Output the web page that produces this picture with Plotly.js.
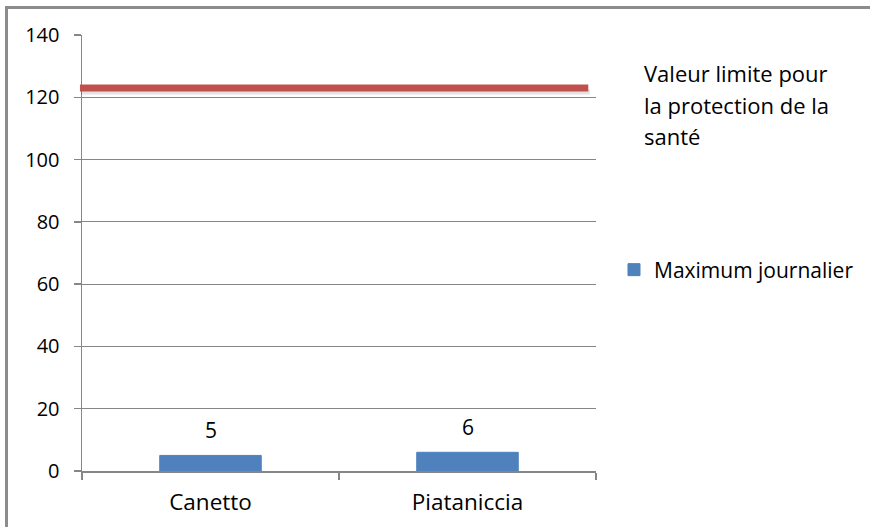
<!DOCTYPE html>
<html>
<head>
<meta charset="utf-8">
<script src="https://cdn.plot.ly/plotly-3.0.1.min.js"></script>
<style>
  html, body { margin: 0; padding: 0; background: #ffffff; }
  #chart { width: 870px; height: 527px; }
  #frame {
    position: absolute; left: 5px; top: 6px; width: 900px; height: 560px;
    border-left: 3px solid #8c8c8c; border-top: 3px solid #8c8c8c;
    pointer-events: none; box-sizing: border-box;
  }
</style>
</head>
<body>
<div id="chart"></div>
<div id="frame"></div>
<script>
// Stations and their daily maximum
const stations = ['Canetto', 'Piataniccia'];
const dailyMax = [5, 6];

// Health protection limit value and its label
const healthLimit = 123;
const limitLabelLines = ['Valeur limite pour', 'la protection de la', 'santé'];

const yTicks = [0, 20, 40, 60, 80, 100, 120, 140];

const FONT = 'Open Sans, Arial, sans-serif';
const GRID = '#868686';
const BLUE = '#4F81BD';

const barTrace = {
  type: 'bar',
  name: 'Maximum journalier',
  x: stations,
  y: dailyMax,
  width: 0.395,
  marker: { color: BLUE, line: { width: 1, color: BLUE } },
  hoverinfo: 'x+y'
};

// value labels above the bars
const valueLabels = stations.map((s, i) => ({
  x: s, y: dailyMax[i], xref: 'x', yref: 'y',
  text: String(dailyMax[i]), showarrow: false,
  yanchor: 'middle', yshift: 25,
  font: { family: FONT, size: 21, color: '#000' }
}));

// text for the limit line, one annotation per line
const limitLabels = limitLabelLines.map((t, i) => ({
  x: 1.089, xref: 'paper', xanchor: 'left',
  y: 0.913 - i * 0.0725, yref: 'paper', yanchor: 'middle',
  text: t, showarrow: false, align: 'left',
  font: { family: FONT, size: 22, color: '#000' }
}));

const layout = {
  width: 870, height: 527,
  margin: { l: 82, r: 273, t: 35, b: 56 },
  paper_bgcolor: '#ffffff', plot_bgcolor: '#ffffff',
  font: { family: FONT, size: 21, color: '#000' },
  xaxis: {
    type: 'category',
    showgrid: false,
    showline: true, linecolor: GRID, linewidth: 1.5,
    ticks: 'outside', tickson: 'boundaries', ticklen: 7, tickcolor: GRID, tickwidth: 1.5,
    ticklabelstandoff: 10,
    tickfont: { family: FONT, size: 22.5, color: '#000' },
    fixedrange: true
  },
  yaxis: {
    range: [0, 140],
    tickvals: yTicks,
    showgrid: true, gridcolor: GRID, gridwidth: 1,
    zeroline: false,
    showline: true, linecolor: GRID, linewidth: 1.5,
    ticks: 'outside', ticklen: 7, tickcolor: GRID, tickwidth: 1.5,
    ticklabelstandoff: 10,
    tickfont: { family: FONT, size: 20, color: '#000' },
    fixedrange: true
  },
  showlegend: true,
  legend: {
    x: 1.033, xanchor: 'left', y: 0.461, yanchor: 'middle',
    font: { family: FONT, size: 21, color: '#000' },
    bgcolor: 'rgba(0,0,0,0)', borderwidth: 0
  },
  shapes: [
    // soft shadow under the limit line
    {
      type: 'line', xref: 'paper', x0: -0.002, x1: 0.988,
      yref: 'y', ysizemode: 'pixel', yanchor: healthLimit, y0: -4, y1: -4,
      line: { color: 'rgba(0,0,0,0.11)', width: 5 }, layer: 'above'
    },
    // limit line
    {
      type: 'line', xref: 'paper', x0: -0.004, x1: 0.985,
      yref: 'y', y0: healthLimit, y1: healthLimit,
      line: { color: '#C0504D', width: 7 }, layer: 'above'
    }
  ],
  annotations: valueLabels.concat(limitLabels)
};

Plotly.newPlot('chart', [barTrace], layout, { displayModeBar: false, staticPlot: true });
</script>
</body>
</html>
